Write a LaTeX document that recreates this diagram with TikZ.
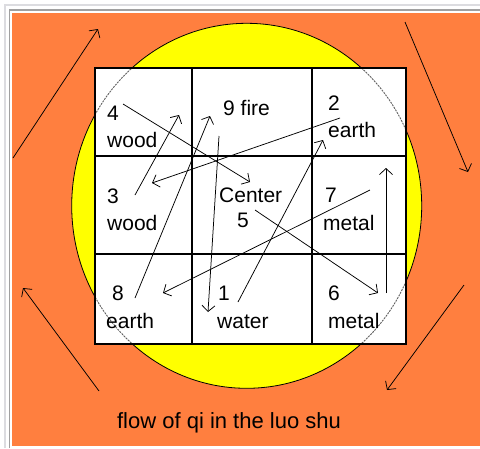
\documentclass[tikz,border=0pt]{standalone}
\usepackage{fontspec}
\setmainfont{Liberation Sans}
\usetikzlibrary{arrows.meta}
\definecolor{frame}{HTML}{A0A0A0}
\definecolor{paleframe}{HTML}{DCDCE0}
\definecolor{orange}{HTML}{FF7F3F}
\definecolor{sunyellow}{HTML}{FFFF00}
\definecolor{rim}{HTML}{606060}

\begin{document}
\begin{tikzpicture}[
  x=1pt, y=-1pt,
  font=\fontsize{21}{24}\selectfont,
  lbl/.style={anchor=base west, inner sep=0pt},
  flow/.style={-{Straight Barb[length=6pt,width=13pt]}, line width=0.75pt},
  gridline/.style={line width=1.4pt}
]
\useasboundingbox (0,0) rectangle (480,448);
% frame and background
\fill[white] (0,0) rectangle (480,448);
\draw[paleframe, line width=1.2pt] (5,448) -- (5,5) -- (480,5);
\draw[frame, line width=1.2pt] (9.5,448) -- (9.5,10) -- (480,10);
\fill[orange] (12,13) rectangle (480,446);
% the disc
\filldraw[fill=sunyellow, draw=black, line width=0.8pt]
  (246.7,205.8) ellipse [x radius=175pt, y radius=182.5pt];
% luo shu grid
\fill[white] (95,68) rectangle (406,344);
\begin{scope}
  \clip (95,68) rectangle (406,344);
  \draw[rim, line width=0.9pt, dash pattern=on 2pt off 1pt]
    (246.7,205.8) ellipse [x radius=175pt, y radius=182.5pt];
\end{scope}
\draw[gridline] (95,68) rectangle (406,344);
\draw[gridline] (192,68) -- (192,344) (312,68) -- (312,344);
\draw[gridline] (95,156) -- (406,156) (95,254) -- (406,254);

% cell labels
\node[lbl] (n4) at (107,120) {4};
\node[lbl] (w4) at (107,147) {wood};
\node[lbl] (n9) at (223,115) {9 fire};
\node[lbl] (n2) at (328,110) {2};
\node[lbl] (w2) at (328,137) {earth};
\node[lbl] (n3) at (107,203) {3};
\node[lbl] (w3) at (107,230) {wood};
\node[lbl] (n5) at (219,202) {Center};
\node[lbl] (w5) at (237,227) {5};
\node[lbl] (n7) at (325,202) {7};
\node[lbl] (w7) at (323,230) {metal};
\node[lbl] (n8) at (112,300) {8};
\node[lbl] (w8) at (106,328) {earth};
\node[lbl] (n1) at (218,300) {1};
\node[lbl] (w1) at (217,328) {water};
\node[lbl] (n6) at (328,300) {6};
\node[lbl] (w6) at (328,328) {metal};
\node[anchor=base, inner sep=0pt, font=\fontsize{22}{24}\selectfont] (title) at (229,428) {flow of qi in the luo shu};

% path of the numbers
\coordinate (s4) at (123,104); \coordinate (t5) at (250,182);
\coordinate (s5) at (255,210); \coordinate (t6) at (378,293);
\coordinate (s6) at (386,293); \coordinate (t7) at (386,168);
\coordinate (s7) at (370,190); \coordinate (t8) at (163,293);
\coordinate (s8) at (135,298); \coordinate (t9) at (210,116);
\coordinate (s9) at (219,136); \coordinate (t1) at (208,312);
\coordinate (s1) at (238,302); \coordinate (t2) at (323,140);
\coordinate (s2) at (340,118); \coordinate (t3) at (152,183);
\coordinate (s3) at (135,195); \coordinate (t4) at (179,115);
\foreach \a/\b in {s4/t5, s5/t6, s6/t7, s7/t8, s8/t9, s9/t1, s1/t2, s2/t3, s3/t4}
  \draw[flow] (\a) -- (\b);

% turning round the disc
\coordinate (tl0) at (13,158);  \coordinate (tl1) at (98,29);
\coordinate (tr0) at (405,22);  \coordinate (tr1) at (468,172);
\coordinate (br0) at (464,285); \coordinate (br1) at (387,390);
\coordinate (bl0) at (99,391);  \coordinate (bl1) at (23,288);
\foreach \a/\b in {tl0/tl1, tr0/tr1, br0/br1, bl0/bl1}
  \draw[flow] (\a) -- (\b);
\end{tikzpicture}
\end{document}
